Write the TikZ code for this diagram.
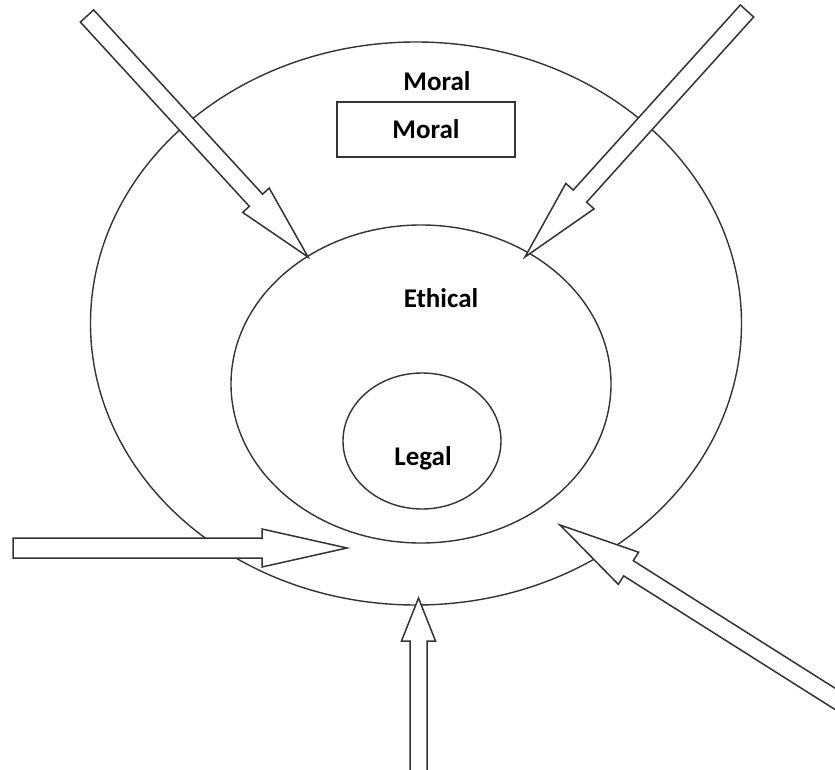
\documentclass[tikz,border=0pt]{standalone}
\usepackage{fontspec}
\setmainfont{Carlito}
\usetikzlibrary{calc, shapes.geometric}

% hollow block arrow: tail, tip, half shaft width, half head width, head length
\newcommand{\blockarrow}[5]{%
\coordinate (hb) at ($(#2)!#5!(#1)$);
\draw[blockarr] ($(#1)!#3!90:(#2)$) -- ($(hb)!#3!90:(#2)$) -- ($(hb)!#4!90:(#2)$) -- (#2)
  -- ($(hb)!#4!-90:(#2)$) -- ($(hb)!#3!-90:(#2)$) -- ($(#1)!#3!-90:(#2)$) -- cycle;
}

\begin{document}
\begin{tikzpicture}[x=1pt, y=-1pt,
  ring/.style={draw=black!80, line width=1.4pt, ellipse, inner sep=0pt},
  blockarr/.style={draw=black!80, fill=white, line width=1.5pt, line join=miter},
  lbl/.style={font=\fontsize{27}{31}\selectfont\bfseries, anchor=base, inner sep=0pt}]
\useasboundingbox (0,0) rectangle (835,770);

% circles
\node[ring, minimum width=651pt, minimum height=563pt] (moral) at (416,323.5) {};
\node[ring, minimum width=380pt, minimum height=318pt] (ethical) at (421,384) {};
\node[ring, minimum width=158pt, minimum height=136pt] (legal) at (422,441) {};

% labels
\node[lbl] (moraltxt) at (437,91) {Moral};
\node[draw=black!80, line width=1.4pt, minimum width=178pt, minimum height=55pt,
  font=\fontsize{27}{31}\selectfont\bfseries] (moralbox) at (426,129.5) {Moral};
\node[lbl] (ethicaltxt) at (441,307) {Ethical};
\node[lbl] (legaltxt) at (423,465) {Legal};

% arrows
\coordinate (tailUL) at (87,16);    \coordinate (tipUL) at (308,257);
\coordinate (tailUR) at (747,11);   \coordinate (tipUR) at (525,257);
\coordinate (tailL) at (13,548);    \coordinate (tipL) at (347,548);
\coordinate (tailB) at (418.5,772); \coordinate (tipB) at (418.5,598);
\coordinate (tailLR) at (840,702);  \coordinate (tipLR) at (560,525);

\blockarrow{tailUL}{tipUL}{9pt}{18pt}{77pt}
\blockarrow{tailUR}{tipUR}{9pt}{19pt}{82pt}
\blockarrow{tailL}{tipL}{10pt}{19pt}{85pt}
\blockarrow{tailB}{tipB}{8.5pt}{17pt}{43pt}
\blockarrow{tailLR}{tipLR}{9pt}{19pt}{81pt}

\end{tikzpicture}
\end{document}
